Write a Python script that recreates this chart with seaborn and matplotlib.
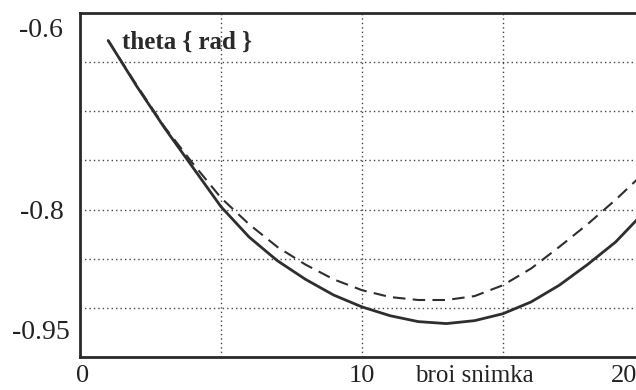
import matplotlib
matplotlib.use("Agg")
import matplotlib.pyplot as plt
import pandas as pd
import seaborn as sns
from matplotlib.transforms import ScaledTranslation

# ---- data ----
frames = list(range(1, 21))
theta_solid = [-0.628, -0.674, -0.717, -0.757, -0.797, -0.828, -0.852, -0.871,
               -0.887, -0.899, -0.908, -0.914, -0.916, -0.913, -0.906, -0.894,
               -0.877, -0.856, -0.833, -0.803]
theta_dashed = [-0.628, -0.673, -0.716, -0.753, -0.788, -0.815, -0.838, -0.856,
                -0.871, -0.882, -0.889, -0.892, -0.892, -0.888, -0.877, -0.860,
                -0.838, -0.815, -0.790, -0.763]
series_names = ["solid", "dashed"]
y_ticks = [-0.95, -0.8, -0.6]
y_tick_labels = ["-0.95", "-0.8", "-0.6"]
y_grid = [-0.9, -0.85, -0.8, -0.75, -0.7, -0.65]
x_ticks = [0, 10, 20]
x_tick_labels = ["0", "10", "20"]
x_grid = [5, 10, 15]
x_label = "broi snimka"
y_label = "theta { rad }"

sns.set_style("white")
plt.rcParams['font.family'] = ['Liberation Serif', 'DejaVu Serif']

fig = plt.figure(figsize=(6.36, 3.90), dpi=100)
ax = fig.add_axes([80 / 636, 33 / 390, 592 / 636, 344 / 390])

df = pd.DataFrame({
    "frame": frames * 2,
    "theta": theta_solid + theta_dashed,
    "series": [series_names[0]] * len(frames) + [series_names[1]] * len(frames),
})
sns.lineplot(data=df, x="frame", y="theta", style="series",
             dashes={series_names[0]: "", series_names[1]: (6, 3.5)},
             color="#2e2e2e", ax=ax, legend=False, estimator=None)
ax.lines[0].set_linewidth(2.0)
ax.lines[1].set_linewidth(1.5)

ax.set_xlim(0, 21)
ax.set_ylim(-0.95, -0.6)
ax.set_xticks(x_ticks)
ax.set_xticklabels(x_tick_labels)
ax.set_yticks(y_ticks)
ax.set_yticklabels(y_tick_labels)
ax.set_xticks(x_grid, minor=True)
ax.set_yticks(y_grid, minor=True)
ax.grid(which="both", linestyle=(0, (1, 2.2)), color="#444444", linewidth=1.0)
ax.tick_params(which="both", length=0)
ax.tick_params(axis="y", labelsize=20, pad=12, colors="#222222")
ax.tick_params(axis="x", labelsize=19, pad=6, colors="#222222")
ax.set_xlabel("")
ax.set_ylabel("")

for sp in ax.spines.values():
    sp.set_linewidth(2.0)
    sp.set_color("#2a2a2a")

# shift edge labels like the reference
ylabs = ax.get_yticklabels()
ylabs[0].set_transform(ylabs[0].get_transform() + ScaledTranslation(6 / 100, 27 / 100, fig.dpi_scale_trans))
ylabs[2].set_transform(ylabs[2].get_transform() + ScaledTranslation(0, -15 / 100, fig.dpi_scale_trans))
xlabs = ax.get_xticklabels()
xlabs[0].set_transform(xlabs[0].get_transform() + ScaledTranslation(3 / 100, 0, fig.dpi_scale_trans))
xlabs[2].set_transform(xlabs[2].get_transform() + ScaledTranslation(-20 / 100, 0, fig.dpi_scale_trans))

ax.text(0.071, 0.916, y_label, transform=ax.transAxes, fontsize=18,
        fontweight="bold", va="center", ha="left", color="#2a2a2a")
ax.annotate(x_label, xy=(14.0, 0), xycoords=("data", "axes fraction"),
            xytext=(0, -6), textcoords="offset points", ha="center", va="top",
            fontsize=18, color="#222222")

fig.savefig("out.png", dpi=100)
